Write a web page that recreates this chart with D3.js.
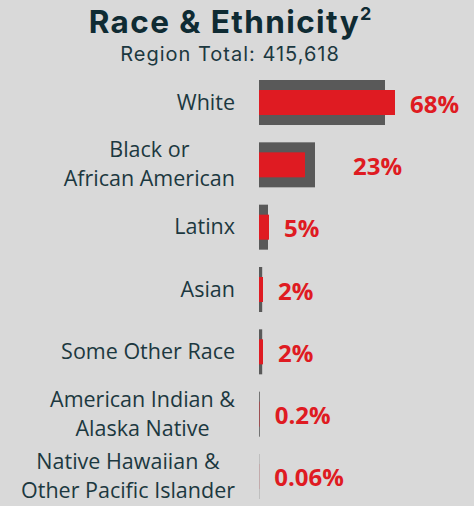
<!DOCTYPE html>
<html>
<head>
<meta charset="UTF-8">
<title>Race & Ethnicity</title>
<script src="https://cdn.jsdelivr.net/npm/d3@7"></script>
<style>
  html, body { margin: 0; padding: 0; background: #d9d9d9; }
  svg { display: block; }
</style>
</head>
<body>
<div id="chart"></div>
<script>
// data
var categories = [
  ["White"],
  ["Black or", "African American"],
  ["Latinx"],
  ["Asian"],
  ["Some Other Race"],
  ["American Indian &", "Alaska Native"],
  ["Native Hawaiian &", "Other Pacific Islander"]
];
var regionValues = [68, 23, 5, 2, 2, 0.2, 0.06];      // red bars
var compareValues = [63, 28, 4.5, 1.6, 1.6, 0.4, 0.1]; // grey bars behind
var valueLabels = ["68%", "23%", "5%", "2%", "2%", "0.2%", "0.06%"];
var regionTotal = "415,618";

var width = 474, height = 506;
var textColor = "#1c3840";
var red = "#df1b22", grey = "#595959";

var svg = d3.select("#chart").append("svg")
    .attr("width", width)
    .attr("height", height);

svg.append("rect").attr("width", width).attr("height", height).attr("fill", "#d9d9d9");

// title
var title = svg.append("text")
    .attr("x", 230).attr("y", 33)
    .attr("text-anchor", "middle")
    .attr("font-family", "Inter, 'Noto Sans', sans-serif")
    .attr("font-weight", 700)
    .attr("font-size", 31.5)
    .attr("letter-spacing", 1.4)
    .attr("fill", "#0f2b33")
    .text("Race & Ethnicity");
title.append("tspan")
    .attr("dy", -13)
    .attr("font-size", 18)
    .attr("letter-spacing", 0)
    .text("2");

svg.append("text")
    .attr("x", 230).attr("y", 61)
    .attr("text-anchor", "middle")
    .attr("font-family", "Inter, 'Noto Sans', sans-serif")
    .attr("font-size", 20)
    .attr("letter-spacing", 1)
    .attr("fill", textColor)
    .text("Region Total: " + regionTotal);

var idx = d3.range(categories.length);
var x0 = 259;
var x = d3.scaleLinear().domain([0, 100]).range([x0, x0 + 200]);
var y = d3.scaleBand().domain(idx).range([80, 499]).paddingInner(0.278);
var redH = 25;
var labelRight = 235;
var labelShift = {1: 23}; // the 23% label sits further right in the original

var rows = svg.selectAll("g.row")
    .data(idx)
    .enter().append("g")
    .attr("class", "row");

rows.append("rect")
    .attr("x", x0)
    .attr("y", function(i){ return y(i); })
    .attr("width", function(i){ return x(compareValues[i]) - x0; })
    .attr("height", y.bandwidth())
    .attr("fill", grey);

rows.append("rect")
    .attr("x", x0)
    .attr("y", function(i){ return y(i) + (y.bandwidth() - redH) / 2; })
    .attr("width", function(i){ return x(regionValues[i]) - x0; })
    .attr("height", redH)
    .attr("fill", red);

rows.append("text")
    .attr("x", function(i){
      return Math.max(x(regionValues[i]), x(compareValues[i])) + 15 + (labelShift[i] || 0);
    })
    .attr("y", function(i){ return y(i) + y.bandwidth() / 2 + 10; })
    .attr("font-family", "'Open Sans', sans-serif")
    .attr("font-weight", 700)
    .attr("font-size", 24)
    .attr("fill", red)
    .text(function(i){ return valueLabels[i]; });

// category labels: lines centred on each other, block right aligned
rows.each(function(i){
  var g = d3.select(this);
  var lines = categories[i];
  var cy = y(i) + y.bandwidth() / 2 + 7;
  var t = g.append("text")
      .attr("font-family", "'Open Sans', sans-serif")
      .attr("font-size", 21.5)
      .attr("fill", textColor)
      .attr("text-anchor", "middle");
  var spans = lines.map(function(l, k){
    return t.append("tspan")
      .attr("y", cy + (k - (lines.length - 1) / 2) * 29)
      .text(l);
  });
  var w = d3.max(spans, function(s){ return s.node().getComputedTextLength(); });
  spans.forEach(function(s){ s.attr("x", labelRight - w / 2); });
});
</script>
</body>
</html>
